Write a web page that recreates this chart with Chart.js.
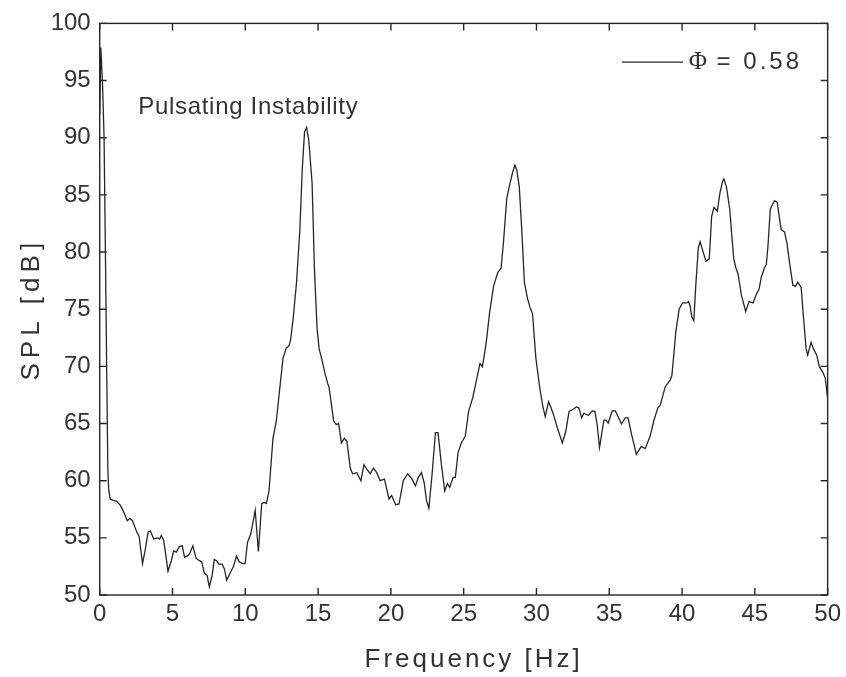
<!DOCTYPE html>
<html>
<head>
<meta charset="utf-8">
<script src="https://cdn.jsdelivr.net/npm/chart.js"></script>
<style>
body{margin:0;background:#fff;}
#wrap{width:846px;height:677px;}
</style>
</head>
<body>
<div id="wrap"><canvas id="splChart" width="846" height="677"></canvas></div>
<script>

// spectrum
var freq = [0.00,0.08,0.20,0.30,0.40,0.48,0.56,0.62,0.72,0.90,1.16,1.39,1.60,1.73,1.89,2.07,2.25,2.52,2.71,2.94,
	3.12,3.32,3.48,3.71,4.00,4.12,4.23,4.39,4.53,4.69,4.92,5.08,5.26,5.48,5.67,5.83,5.99,6.17,6.40,6.62,
	6.85,7.01,7.19,7.38,7.53,7.72,7.87,8.03,8.17,8.40,8.56,8.72,8.95,9.17,9.40,9.58,9.81,9.99,10.15,10.38,
	10.68,10.90,11.13,11.31,11.45,11.63,11.90,12.13,12.32,12.59,12.81,13.00,13.11,13.29,13.52,13.75,13.91,14.07,14.21,14.36,
	14.59,14.75,14.93,15.07,15.27,15.50,15.66,15.75,15.89,16.07,16.26,16.41,16.60,16.80,16.98,17.21,17.37,17.66,17.94,18.15,
	18.35,18.58,18.80,19.03,19.26,19.56,19.87,20.05,20.33,20.56,20.85,21.15,21.42,21.69,21.88,22.10,22.29,22.45,22.61,22.83,
	23.06,23.24,23.47,23.70,23.88,24.04,24.27,24.43,24.61,24.84,25.11,25.34,25.63,25.98,26.12,26.29,26.55,26.78,27.05,27.34,
	27.57,27.73,27.96,28.18,28.37,28.52,28.64,28.82,29.00,29.17,29.39,29.55,29.73,29.96,30.23,30.42,30.60,30.83,31.01,31.21,
	31.44,31.78,32.01,32.24,32.47,32.74,32.92,33.10,33.26,33.56,33.83,34.01,34.17,34.33,34.63,34.79,34.93,35.20,35.42,35.84,
	36.10,36.29,36.56,36.86,37.20,37.47,37.81,38.05,38.34,38.50,38.84,39.18,39.30,39.41,39.57,39.80,40.03,40.32,40.44,40.55,
	40.67,40.81,40.94,41.12,41.24,41.46,41.64,41.87,42.03,42.19,42.42,42.60,42.78,42.87,43.05,43.28,43.40,43.55,43.69,43.85,
	44.08,44.37,44.60,44.88,45.10,45.29,45.44,45.67,45.79,45.90,46.06,46.35,46.54,46.70,46.81,47.04,47.20,47.38,47.61,47.79,
	47.95,48.18,48.33,48.52,48.63,48.86,49.02,49.25,49.43,49.66,49.84,50.00];

var spl = [92.0,97.9,94.5,90.0,79.0,69.8,61.0,59.2,58.4,58.3,58.2,57.9,57.4,57.0,56.5,56.7,56.5,55.6,55.1,52.75,
	53.9,55.5,55.6,54.9,55.0,54.9,55.2,54.8,53.6,52.1,53.0,53.85,53.75,54.25,54.3,53.3,53.4,53.6,54.3,53.2,
	53.0,52.9,51.9,51.7,50.7,51.7,53.1,53.0,52.7,52.7,52.3,51.3,51.9,52.45,53.4,52.9,52.75,52.75,54.6,55.35,
	57.4,53.8,58.0,58.1,58.0,59.1,63.7,65.2,67.5,70.7,71.6,71.8,72.3,74.2,77.35,82.0,87.2,90.5,90.9,89.8,
	86.0,78.5,73.3,71.55,70.55,69.25,68.5,68.2,66.9,65.2,64.9,65.0,63.3,63.7,63.45,61.1,60.6,60.7,60.0,61.4,
	61.0,60.6,61.1,60.7,60.0,60.13,58.4,58.7,57.9,57.96,60.0,60.6,60.2,59.55,60.27,60.7,59.8,58.25,57.6,60.56,
	64.2,64.2,61.4,59.1,59.75,59.4,60.27,60.3,62.44,63.3,63.9,66.06,67.3,69.4,70.25,69.97,72.1,74.7,77.0,78.2,
	78.6,80.8,84.7,86.0,87.0,87.6,87.2,85.7,81.7,77.35,75.9,75.2,74.6,70.7,68.1,66.6,65.6,66.9,66.35,65.6,
	64.6,63.3,64.3,66.06,66.2,66.45,66.35,65.5,65.9,65.7,66.1,66.06,64.9,62.9,65.3,65.3,65.04,66.1,66.1,64.96,
	65.5,65.5,63.9,62.3,63.0,62.8,63.9,65.2,66.4,66.6,68.2,68.8,69.2,70.7,73.0,75.0,75.55,75.55,75.67,75.3,
	74.3,74.0,77.06,80.4,80.9,79.95,79.2,79.4,83.1,83.9,83.57,85.16,86.17,86.4,85.7,83.7,81.7,79.4,78.65,78.06,
	76.2,74.8,75.67,75.55,76.3,76.76,77.8,78.65,78.93,80.5,83.77,84.5,84.35,82.84,81.97,81.75,80.8,79.1,77.1,77.0,
	77.35,76.9,74.45,71.55,70.98,72.1,71.55,70.98,69.97,69.5,68.95,67.2];

var xTicks = [0,5,10,15,20,25,30,35,40,45,50];
var yTicks = [50,55,60,65,70,75,80,85,90,95,100];

var seriesSymbol = "\u03A6";
var seriesValue = " = 0.58";
var noteText = "Pulsating Instability";
var xTitle = "Frequency [Hz]";
var yTitle = "SPL [dB]";

var inkColor = '#262626';
var textColor = '#333333';
var sans = '"Liberation Sans", Arial, sans-serif';

function buildPoints(){
	var pts = [];
	for(var i=0;i<freq.length;i++){
		pts.push({x:freq[i], y:spl[i]});
	}
	return pts;
}

// matlab style box, inward ticks, legend, note and axis titles
var boxPlugin = {
	id:'boxPlugin',
	afterDatasetsDraw: function(chart){
		var ctx = chart.ctx;
		var a = chart.chartArea;
		var xs = chart.scales.x, ys = chart.scales.y;

		ctx.save();
		ctx.strokeStyle = inkColor;
		ctx.lineWidth = 1.4;
		ctx.strokeRect(a.left, a.top, a.right-a.left, a.bottom-a.top);
		ctx.beginPath();
		xTicks.forEach(function(v){
			var px = xs.getPixelForValue(v);
			ctx.moveTo(px, a.bottom); ctx.lineTo(px, a.bottom-7);
			ctx.moveTo(px, a.top); ctx.lineTo(px, a.top+7);
		});
		yTicks.forEach(function(v){
			var py = ys.getPixelForValue(v);
			ctx.moveTo(a.left, py); ctx.lineTo(a.left+7, py);
			ctx.moveTo(a.right, py); ctx.lineTo(a.right-7, py);
		});
		ctx.stroke();

		// legend
		var ly = a.top + 38.7;
		ctx.beginPath();
		ctx.lineWidth = 1.2;
		ctx.moveTo(a.right-205.7, ly);
		ctx.lineTo(a.right-144.7, ly);
		ctx.stroke();
		ctx.fillStyle = textColor;
		ctx.textBaseline = 'middle';
		ctx.textAlign = 'left';
		ctx.font = '25px "Liberation Serif", serif';
		ctx.fillText(seriesSymbol, a.right-139, ly);
		var w = ctx.measureText(seriesSymbol).width;
		ctx.font = '24px ' + sans;
		ctx.letterSpacing = '3px';
		ctx.fillText(seriesValue, a.right-139+w, ly);

		// note
		ctx.textBaseline = 'alphabetic';
		ctx.letterSpacing = '0.7px';
		ctx.fillText(noteText, a.left+38.5, a.top+91);

		// axis titles
		ctx.font = '26px ' + sans;
		ctx.letterSpacing = '3px';
		ctx.textAlign = 'center';
		ctx.textBaseline = 'middle';
		ctx.fillText(xTitle, (a.left+a.right)/2 + 10, 660);
		ctx.save();
		ctx.translate(32, (a.top+a.bottom)/2);
		ctx.rotate(-Math.PI/2);
		ctx.letterSpacing = '5px';
		ctx.fillText(yTitle, 0, 0);
		ctx.restore();
		ctx.restore();
	}
};

var ctx = document.getElementById('splChart');
var chart = new Chart(ctx, {
	type:'line',
	data:{
		datasets:[{
			label: seriesSymbol + seriesValue,
			data: buildPoints(),
			borderColor: inkColor,
			borderWidth: 1.3,
			pointRadius: 0,
			tension: 0,
			fill: false
		}]
	},
	options:{
		responsive:false,
		animation:false,
		layout:{padding:{left:0, right:14.3, top:19, bottom:0}},
		plugins:{legend:{display:false}, tooltip:{enabled:false}},
		scales:{
			x:{
				type:'linear', min:0, max:50,
				afterBuildTicks: function(s){ s.ticks = xTicks.map(function(v){return {value:v};}); },
				afterFit: function(s){ s.height = 82; },
				grid:{display:false, drawTicks:false},
				border:{display:false},
				ticks:{color:textColor, font:{family:sans, size:24}, padding:5, maxRotation:0, autoSkip:false}
			},
			y:{
				type:'linear', min:50, max:100,
				afterBuildTicks: function(s){ s.ticks = yTicks.map(function(v){return {value:v};}); },
				afterFit: function(s){ s.width = 99.7; },
				grid:{display:false, drawTicks:false},
				border:{display:false},
				ticks:{color:textColor, font:{family:sans, size:24}, padding:9, autoSkip:false}
			}
		}
	},
	plugins:[boxPlugin]
});
</script>
</body>
</html>
